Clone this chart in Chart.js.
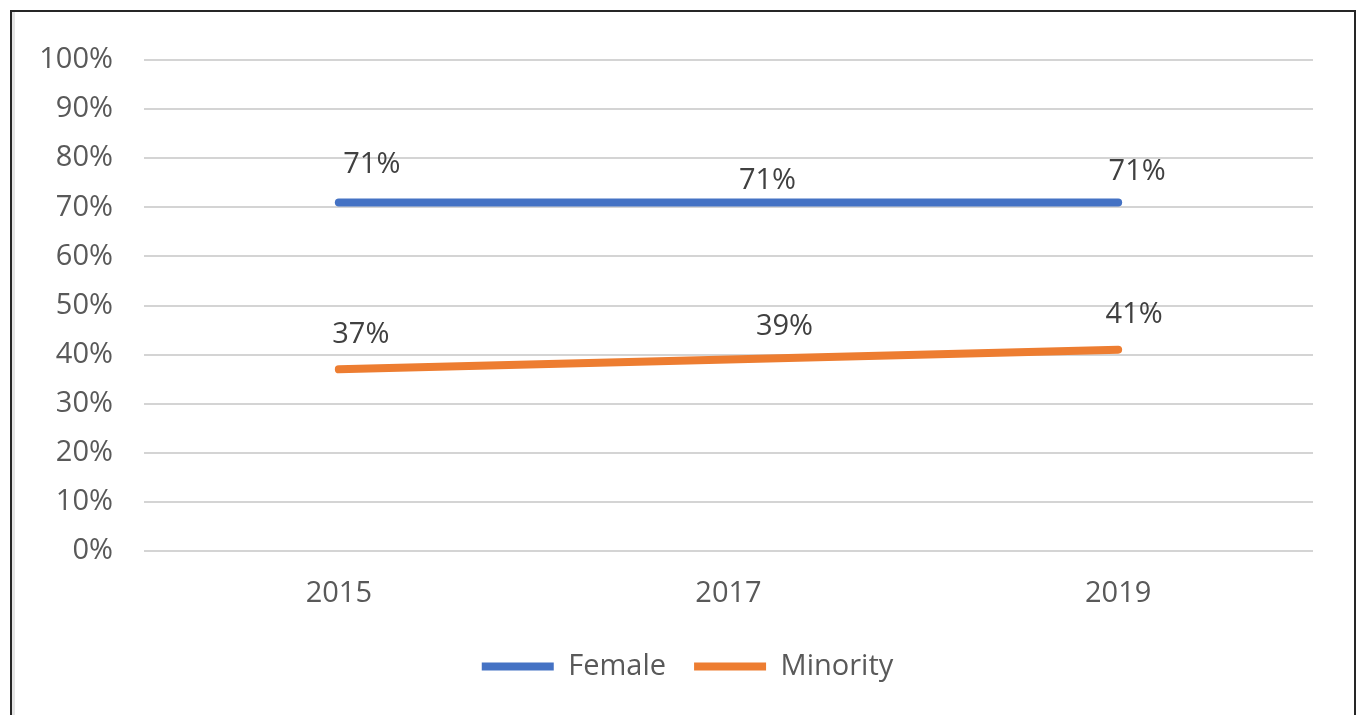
<!DOCTYPE html>
<html>
<head>
<meta charset="utf-8">
<script src="https://cdn.jsdelivr.net/npm/chart.js@4.4.1/dist/chart.umd.min.js"></script>
<style>
  html, body { margin: 0; padding: 0; background: #ffffff; }
  body { width: 1360px; height: 715px; position: relative; overflow: hidden; }
  #frame { position: absolute; left: 10px; top: 10px; width: 1342px; height: 760px;
           border: 2px solid #262626; box-shadow: inset 3px 0 0 #e4e4e4; box-sizing: content-box; }
  #wrap { position: absolute; left: 0; top: 0; width: 1360px; height: 715px; }
</style>
</head>
<body>
<div id="frame"></div>
<div id="wrap"><canvas id="c" width="1360" height="715"></canvas></div>
<script>
const categories = ['2015', '2017', '2019'];
const femaleValues = [71, 71, 71];
const minorityValues = [37, 39, 41];
const seriesNames = ['Female', 'Minority'];
const yTickValues = [0, 10, 20, 30, 40, 50, 60, 70, 80, 90, 100];

const FONT = '"Open Sans", "Liberation Sans", sans-serif';
const colors = ['#4472C4', '#ED7D31'];

// label offsets (pixels from point) to mimic placement in reference
const labelOffsets = [
  [[33, -38], [39, -22], [19, -31]],
  [[22, -35], [56, -33], [16, -35]]
];

const dataLabelPlugin = {
  id: 'dataLabels',
  afterDatasetsDraw(chart) {
    const ctx = chart.ctx;
    ctx.save();
    ctx.font = '29px ' + FONT;
    ctx.fillStyle = '#404040';
    ctx.textAlign = 'center';
    ctx.textBaseline = 'middle';
    chart.data.datasets.forEach((ds, di) => {
      const meta = chart.getDatasetMeta(di);
      meta.data.forEach((pt, i) => {
        const off = labelOffsets[di][i];
        ctx.fillText(ds.data[i] + '%', pt.x + off[0], pt.y + off[1]);
      });
    });
    ctx.restore();
  }
};

// shift the legend horizontally so it is centred like the reference
const legendShiftPlugin = {
  id: 'legendShift',
  afterLayout(chart) {
    if (chart.legend) { chart.legend.left += 31; chart.legend.right += 31; }
  }
};

new Chart(document.getElementById('c'), {
  type: 'line',
  data: {
    labels: categories,
    datasets: [
      { label: seriesNames[0], data: femaleValues, borderColor: colors[0], backgroundColor: colors[0],
        borderWidth: 8, borderCapStyle: 'round', pointRadius: 0, tension: 0 },
      { label: seriesNames[1], data: minorityValues, borderColor: colors[1], backgroundColor: colors[1],
        borderWidth: 8, borderCapStyle: 'round', pointRadius: 0, tension: 0 }
    ]
  },
  options: {
    responsive: false,
    animation: false,
    devicePixelRatio: 1,
    layout: { padding: { left: 0, right: 47, top: 60, bottom: 24 } },
    plugins: {
      tooltip: { enabled: false },
      legend: {
        position: 'bottom',
        labels: {
          font: { family: FONT, size: 29 },
          color: '#595959',
          boxWidth: 72,
          boxHeight: 8,
          padding: 28,
          useBorderRadius: true,
          borderRadius: 4,
          generateLabels(chart) {
            return chart.data.datasets.map((ds, i) => ({
              text: ds.label, fillStyle: ds.borderColor, strokeStyle: ds.borderColor,
              lineWidth: 0, datasetIndex: i, hidden: false, fontColor: '#595959'
            }));
          }
        }
      }
    },
    scales: {
      x: {
        offset: true,
        grid: { display: false },
        border: { display: false },
        ticks: { font: { family: FONT, size: 29 }, color: '#595959', padding: 17 },
        afterFit(scale) { scale.height = 73; }
      },
      y: {
        min: 0, max: 100,
        afterBuildTicks(scale) { scale.ticks = yTickValues.map(v => ({ value: v })); },
        grid: { color: '#d4d4d4', lineWidth: 2, drawTicks: false },
        border: { display: false },
        ticks: { font: { family: FONT, size: 29 }, color: '#595959', padding: 31,
                 callback: v => v + '%' },
        afterFit(scale) { scale.width = 144; }
      }
    }
  },
  plugins: [dataLabelPlugin, legendShiftPlugin]
});
</script>
</body>
</html>
